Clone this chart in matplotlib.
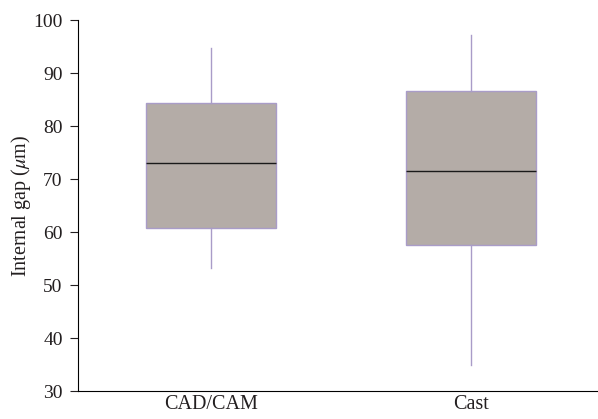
import matplotlib
matplotlib.use("Agg")
import matplotlib.pyplot as plt

categories = ["CAD/CAM", "Cast"]
whisker_low = [53.2, 35.0]
q1 = [60.8, 57.5]
median = [73.0, 71.5]
q3 = [84.3, 86.6]
whisker_high = [94.7, 97.2]
yticks = [30, 40, 50, 60, 70, 80, 90, 100]

plt.rcParams['font.family'] = ['Liberation Serif', 'DejaVu Serif']
plt.rcParams['mathtext.fontset'] = 'stix'

fig = plt.figure(figsize=(5.98, 4.19), dpi=100)
ax = fig.add_axes([0.1304, 0.0668, 0.8696, 0.8854])

stats = []
for i, c in enumerate(categories):
    stats.append(dict(label=c, whislo=whisker_low[i], q1=q1[i], med=median[i],
                      q3=q3[i], whishi=whisker_high[i], fliers=[]))

edge = '#a99cc8'
ax.bxp(stats, positions=[1, 2], widths=0.5, patch_artist=True, showcaps=False,
       boxprops=dict(facecolor='#b4aca7', edgecolor=edge, linewidth=1.0),
       whiskerprops=dict(color=edge, linewidth=1.0),
       medianprops=dict(color='#1a1a1a', linewidth=1.0))

ax.set_xlim(0.49, 2.49)
ax.set_ylim(30, 100)
ax.set_yticks(yticks)
ax.set_ylabel(r'Internal gap ($\mu$m)', fontsize=14.5, color='#231f20', labelpad=0)
for s in ['top', 'right']:
    ax.spines[s].set_visible(False)
ax.tick_params(axis='y', direction='out', length=6, pad=5, labelsize=14, colors='#231f20')
ax.tick_params(axis='x', length=0, labelsize=14.5, colors='#231f20', pad=3)
fig.savefig('out.png', dpi=100)
